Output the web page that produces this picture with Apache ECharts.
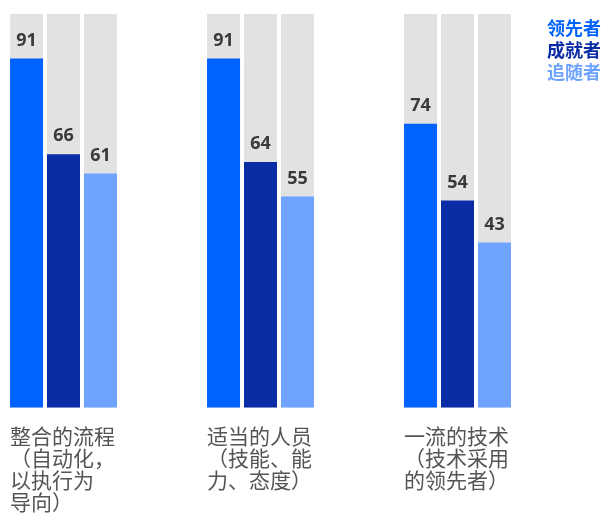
<!DOCTYPE html>
<html>
<head>
<meta charset="utf-8">
<script src="https://cdn.jsdelivr.net/npm/echarts@6/dist/echarts.min.js"></script>
<style>
html,body{margin:0;padding:0;background:#fff;}
#chart{width:607px;height:513px;}
</style>
</head>
<body>
<div id="chart"></div>
<script>
var categories = ['整合的流程\n（自动化，\n以执行为\n导向）', '适当的人员\n（技能、能\n力、态度）', '一流的技术\n（技术采用\n的领先者）'];
var seriesNames = ['领先者', '成就者', '追随者'];
var leaders = [91, 91, 74];
var achievers = [66, 64, 54];
var followers = [61, 55, 43];
var colors = ['#0062FF', '#0A2DA5', '#6EA3FF'];

var chart = echarts.init(document.getElementById('chart'));
var dataSets = [leaders, achievers, followers];
var series = dataSets.map(function (d, i) {
  return {
    name: seriesNames[i],
    type: 'bar',
    data: d,
    barWidth: 33,
    barGap: '12%',
    clip: false,
    itemStyle: { color: colors[i] },
    showBackground: true,
    backgroundStyle: { color: '#E2E2E2' },
    label: {
      show: true,
      position: 'top',
      distance: 9,
      color: '#3a3a3a',
      fontSize: 18,
      fontWeight: 'bold',
      fontFamily: 'Noto Sans, sans-serif'
    }
  };
});

chart.setOption({
  animation: false,
  grid: { left: 63.5, right: 149.5, top: 14, bottom: 105 },
  legend: {
    orient: 'vertical',
    right: -4,
    top: 14,
    icon: 'none',
    itemWidth: 0,
    itemHeight: 10,
    itemGap: 4,
    align: 'right',
    data: seriesNames.map(function (n, i) {
      return { name: n, textStyle: { color: colors[i] } };
    }),
    textStyle: { fontSize: 18, fontWeight: 'bold', fontFamily: 'Noto Sans CJK SC', padding: 0 }
  },
  xAxis: {
    type: 'category',
    boundaryGap: false,
    data: categories,
    axisLine: { show: false },
    axisTick: { show: false },
    splitLine: { show: false },
    axisLabel: {
      margin: 18,
      interval: 0,
      formatter: function (v) {
        return v.split('\n').map(function (l) { return '{a|' + l + '}'; }).join('\n');
      },
      rich: {
        a: {
          width: 107,
          align: 'left',
          fontSize: 21,
          lineHeight: 22,
          color: '#555555',
          fontFamily: 'Noto Sans CJK SC'
        }
      }
    }
  },
  yAxis: {
    type: 'value',
    min: 0,
    max: 102.6,
    show: false,
    splitLine: { show: false }
  },
  series: series
});
</script>
</body>
</html>
